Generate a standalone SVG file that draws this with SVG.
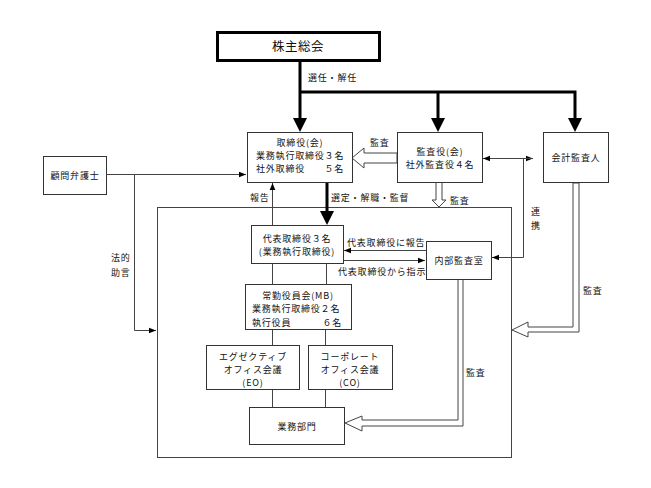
<svg xmlns="http://www.w3.org/2000/svg" width="651" height="488" viewBox="0 0 651 488">
<defs>
<style>
text{font-family:"Noto Sans CJK JP","Noto Sans CJK SC",sans-serif;font-size:9px;letter-spacing:0.8px;fill:#111;}
.c{text-anchor:middle;}
.e{text-anchor:end;}
.box{fill:#fff;stroke:#333;stroke-width:1;}
.ln{fill:none;stroke:#444;stroke-width:1;}
.thick{fill:none;stroke:#000;stroke-width:3;}
.hollow{fill:#fff;stroke:#444;stroke-width:1;}
.head{fill:#000;}
</style>
<marker id="ah" viewBox="0 0 10 10" refX="10" refY="5" markerWidth="7" markerHeight="7" markerUnits="userSpaceOnUse" orient="auto">
<path d="M0,1 L10,5 L0,9 Z" fill="#000"/>
</marker>
</defs>
<rect width="651" height="488" fill="#fff"/>

<g id="frame"><rect x="157.5" y="207.5" width="354" height="250" class="ln"/></g>

<g id="connectors">
<path class="thick" d="M300,61 V118 M300,92 H575 V118 M438,92 V118"/>
<polygon class="head" points="293,118 307,118 300,132"/>
<polygon class="head" points="431,118 445,118 438,132"/>
<polygon class="head" points="568,118 582,118 575,132"/>
<text x="308" y="81">選任・解任</text>
<path class="thick" d="M327,182 V211"/>
<polygon class="head" points="320,211 334,211 327,225"/>
<text x="331" y="201">選定・解職・監督</text>
<path class="ln" d="M272.5,225 V183" marker-end="url(#ah)"/>
<text x="250" y="201">報告</text>
<polygon class="hollow" points="352,158 364,148 364,153 397,153 397,163 364,163 364,168"/>
<text x="370" y="146">監査</text>
<polygon class="hollow" points="436,182 436,200 432,200 439,207 446,200 442,200 442,182"/>
<text x="450" y="204">監査</text>
<path class="ln" d="M492,158.5 H533" marker-end="url(#ah)"/>
<path class="ln" d="M533,158.5 H483" marker-end="url(#ah)"/>
<path class="ln" d="M523.5,158.5 V257.5 H492" marker-end="url(#ah)"/>
<text x="531" y="215">連</text>
<text x="531" y="229">携</text>
<polygon class="hollow" points="573,183 573,327 528,327 528,322 512,330 528,337 528,332 579,332 579,183"/>
<text x="583" y="294">監査</text>
<path class="ln" d="M106,174.5 H246" marker-end="url(#ah)"/>
<path class="ln" d="M134.5,174.5 V330.5 H156" marker-end="url(#ah)"/>
<text x="111" y="261">法的</text>
<text x="111" y="276">助言</text>
<path class="ln" d="M426,250.5 H344" marker-end="url(#ah)"/>
<text x="347" y="246">代表取締役に報告</text>
<path class="ln" d="M343,260.5 H425" marker-end="url(#ah)"/>
<text x="338" y="275">代表取締役から指示</text>
<path class="ln" d="M272.5,263 V284 M326.5,263 V284 M272.5,329 V345 M325.5,329 V345 M272.5,389 V407 M325.5,389 V407"/>
<polygon class="hollow" points="458,279 458,420 362,420 362,416 345,423 362,431 362,426 463,426 463,279"/>
<text x="466" y="376">監査</text>
</g>

<g id="shareholders">
<rect x="217.5" y="32.5" width="162" height="28" fill="#fff" stroke="#000" stroke-width="3"/>
<text x="298" y="51" class="c" style="font-size:12.5px;letter-spacing:0.5px">株主総会</text>
</g>

<g id="board">
<rect x="247.5" y="132.5" width="105" height="50" class="box"/>
<text x="300" y="145.5" class="c">取締役(会)</text>
<text x="256" y="158.5">業務執行取締役３名</text>
<text x="256" y="171.5">社外取締役</text>
<text x="344" y="171.5" class="e">５名</text>
</g>

<g id="auditors">
<rect x="397.5" y="132.5" width="85" height="50" class="box"/>
<text x="440" y="155" class="c">監査役(会)</text>
<text x="440" y="168" class="c">社外監査役４名</text>
</g>

<g id="accountant">
<rect x="543.5" y="132.5" width="65" height="50" class="box"/>
<text x="576" y="161" class="c">会計監査人</text>
</g>

<g id="lawyer">
<rect x="43.5" y="156.5" width="63" height="38" class="box"/>
<text x="75" y="179" class="c">顧問弁護士</text>
</g>

<g id="representative">
<rect x="251.5" y="225.5" width="92" height="38" class="box"/>
<text x="297" y="241.5" class="c">代表取締役３名</text>
<text x="297" y="255" class="c">(業務執行取締役)</text>
</g>

<g id="internal-audit">
<rect x="426.5" y="241.5" width="65" height="38" class="box"/>
<text x="459" y="264" class="c">内部監査室</text>
</g>

<g id="management-board">
<rect x="245.5" y="284.5" width="106" height="45" class="box"/>
<text x="298" y="298.5" class="c">常勤役員会(MB)</text>
<text x="252" y="312">業務執行取締役２名</text>
<text x="252" y="325.5">執行役員</text>
<text x="342" y="325.5" class="e">６名</text>
</g>

<g id="eo">
<rect x="206.5" y="345.5" width="93" height="44" class="box"/>
<text x="253" y="359.5" class="c">エグゼクティブ</text>
<text x="253" y="372.5" class="c">オフィス会議</text>
<text x="253" y="385.5" class="c">(EO)</text>
</g>

<g id="co">
<rect x="308.5" y="345.5" width="84" height="44" class="box"/>
<text x="350" y="359.5" class="c">コーポレート</text>
<text x="350" y="372.5" class="c">オフィス会議</text>
<text x="350" y="385.5" class="c">(CO)</text>
</g>

<g id="business">
<rect x="249.5" y="407.5" width="95" height="37" class="box"/>
<text x="297" y="430" class="c">業務部門</text>
</g>
</svg>
